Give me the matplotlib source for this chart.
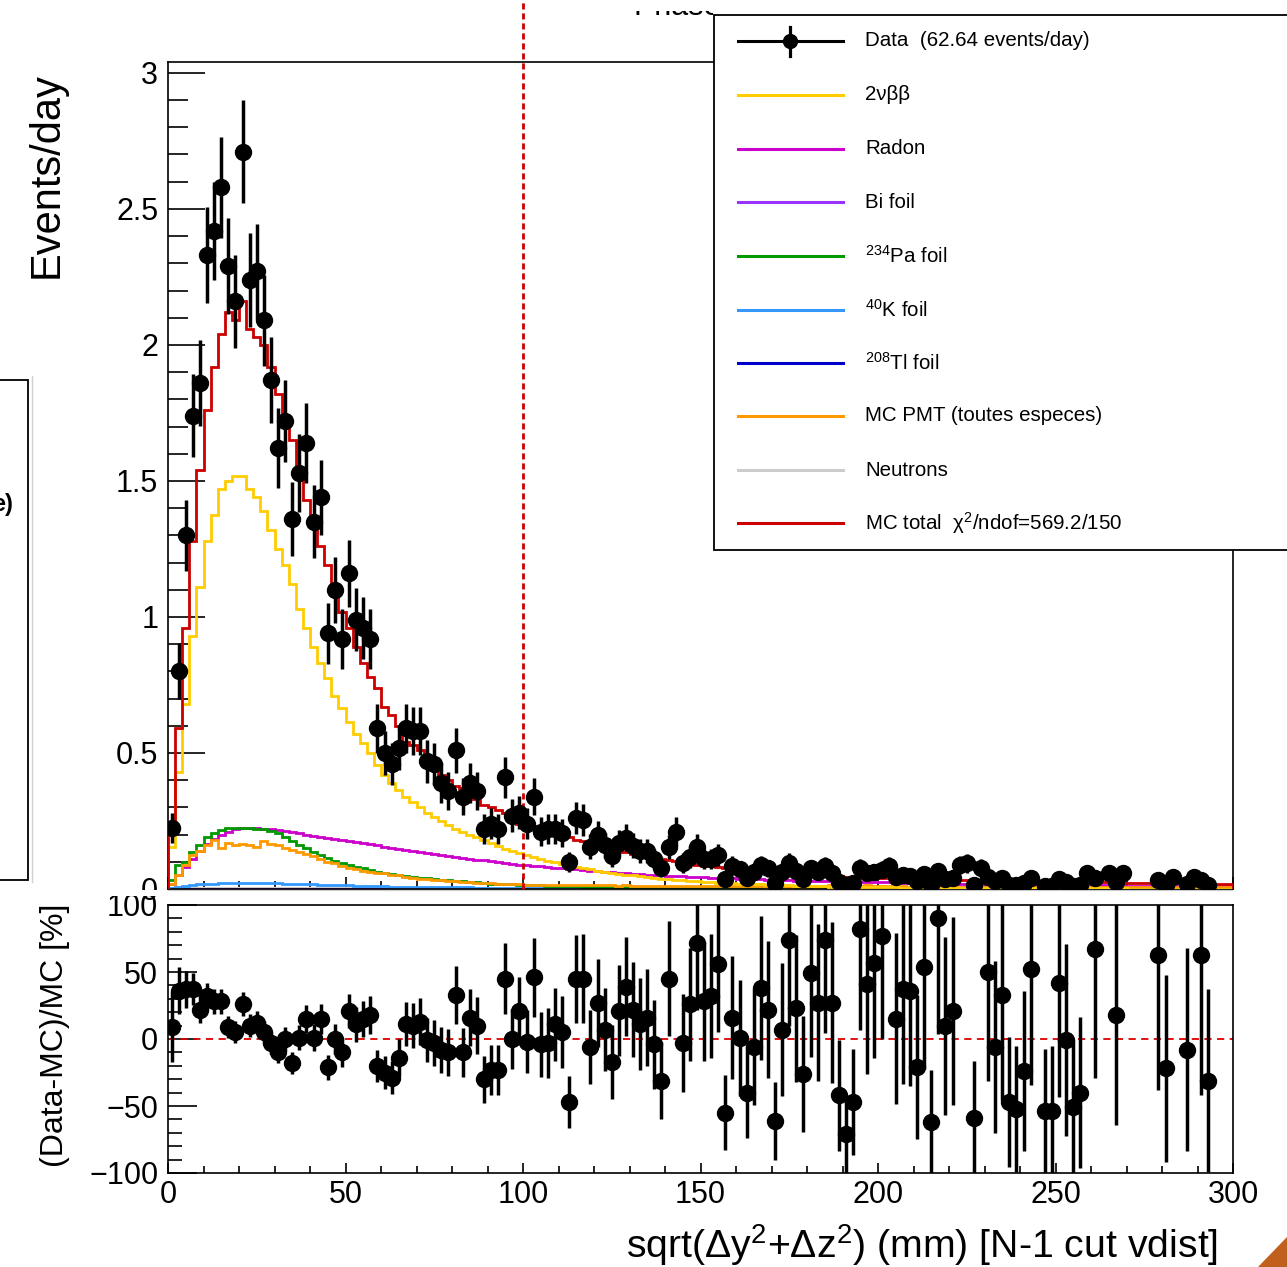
import numpy as np
import matplotlib
matplotlib.use("Agg")
import matplotlib.pyplot as plt
from matplotlib.lines import Line2D
from matplotlib.patches import Rectangle, Polygon
from matplotlib.ticker import MultipleLocator

plt.rcParams['font.family'] = ['Liberation Sans', 'DejaVu Sans']
plt.rcParams['mathtext.fontset'] = 'custom'
plt.rcParams['mathtext.rm'] = 'Liberation Sans'
plt.rcParams['mathtext.it'] = 'Liberation Sans:italic'
plt.rcParams['mathtext.bf'] = 'Liberation Sans:bold'

nan = float('nan')

# ---- data (150 bins of 2 mm, 0-300 mm) ----
bin_edges = np.arange(0, 302, 2)
livetime_days = 75.0

data_per_day = [
    0.225, 0.80, 1.30, 1.74, 1.86, 2.33, 2.42, 2.58, 2.29, 2.16,
    2.71, 2.24, 2.27, 2.09, 1.87, 1.62, 1.72, 1.36, 1.53, 1.64,
    1.35, 1.44, 0.94, 1.10, 0.92, 1.16, 0.99, 0.96, 0.92, 0.59,
    0.50, 0.46, 0.52, 0.59, 0.58, 0.58, 0.47, 0.46, 0.39, 0.36,
    0.51, 0.34, 0.39, 0.36, 0.22, 0.24, 0.22, 0.41, 0.27, 0.28,
    0.24, 0.34, 0.21, 0.22, 0.22, 0.205, 0.101, 0.261, 0.254, 0.155,
    0.197, 0.161, 0.120, 0.169, 0.188, 0.159, 0.139, 0.139, 0.110, 0.076,
    0.154, 0.21, 0.095, 0.118, 0.155, 0.110, 0.110, 0.125, 0.035, 0.086,
    0.073, 0.041, 0.063, 0.088, 0.076, 0.023, 0.062, 0.097, 0.066, 0.038,
    0.076, 0.062, 0.084, 0.060, 0.027, 0.013, 0.023, 0.078, 0.059, 0.064,
    0.071, 0.085, 0.044, 0.051, 0.049, 0.028, 0.054, 0.013, 0.065, 0.036,
    0.040, 0.088, 0.094, 0.013, 0.077, 0.045, 0.028, 0.039, 0.015, 0.013,
    0.021, 0.041, nan, 0.012, 0.012, 0.037, 0.026, 0.012, 0.015, 0.058,
    0.040, nan, 0.060, 0.027, 0.058, nan, nan, nan, nan, 0.034,
    0.016, 0.045, nan, 0.019, 0.045, 0.033, 0.014, nan, nan, nan,
]

ratio_pct = [
    9, 36, 37, 37, 22, 32, 28, 28, 9, 5,
    26, 10, 12, 5, -3, -10, 0, -18, 1, 15,
    1, 15, -21, 0, -10, 21, 11, 15, 18, -20,
    -25, -29, -14, 11, 10, 13, -1, -3, -8, -10,
    33, -10, 16, 10, -30, -23, -23, 45, 0, 21,
    -2, 46, -4, -3, 11, 5, -47, 45, 45, -6,
    27, 7, -17, 21, 39, 22, 11, 16, -4, -31,
    45, nan, -3, 26, 72, 28, 32, 56, -55, 16,
    1, -40, -6, 38, 22, -61, 7, 74, 23, -26,
    49, 27, 74, 27, -42, -71, -47, 82, 41, 57,
    77, nan, 15, 37, 36, -21, 54, -62, 90, 10,
    21, nan, nan, -59, nan, 50, -6, 33, -47, -52,
    -24, 52, nan, -54, -54, 42, -1, -51, -40, nan,
    67, nan, nan, 18, nan, nan, nan, nan, nan, 63,
    -22, nan, nan, -8, nan, 63, -31, nan, nan, nan,
]

mc_total = [
    0.21, 0.59, 0.96, 1.28, 1.54, 1.76, 1.92, 2.04, 2.12, 2.09,
    2.16, 2.06, 2.03, 2.00, 1.92, 1.82, 1.72, 1.65, 1.52, 1.43,
    1.34, 1.26, 1.19, 1.10, 1.02, 0.96, 0.89, 0.83, 0.78, 0.74,
    0.67, 0.64, 0.60, 0.54, 0.53, 0.51, 0.48, 0.46, 0.42, 0.40,
    0.38, 0.37, 0.34, 0.33, 0.31, 0.30, 0.29, 0.28, 0.27, 0.24,
    0.24, 0.23, 0.22, 0.21, 0.20, 0.195, 0.19, 0.18, 0.175, 0.165,
    0.155, 0.15, 0.145, 0.14, 0.135, 0.13, 0.125, 0.12, 0.115, 0.11,
    0.106, 0.102, 0.098, 0.094, 0.09, 0.086, 0.083, 0.08, 0.077, 0.074,
    0.072, 0.069, 0.067, 0.064, 0.062, 0.06, 0.058, 0.056, 0.054, 0.052,
    0.051, 0.049, 0.048, 0.047, 0.046, 0.045, 0.044, 0.043, 0.042, 0.041,
    0.040, 0.039, 0.038, 0.037, 0.036, 0.036, 0.035, 0.034, 0.034, 0.033,
    0.033, 0.032, 0.032, 0.031, 0.031, 0.030, 0.030, 0.029, 0.029, 0.028,
    0.028, 0.027, 0.027, 0.027, 0.026, 0.026, 0.026, 0.025, 0.025, 0.025,
    0.024, 0.024, 0.024, 0.023, 0.023, 0.023, 0.022, 0.022, 0.022, 0.021,
    0.021, 0.021, 0.021, 0.021, 0.020, 0.020, 0.020, 0.020, 0.020, 0.020,
]

two_nu_bb = [
    0.155, 0.43, 0.68, 0.93, 1.11, 1.28, 1.375, 1.47, 1.50, 1.52,
    1.52, 1.47, 1.44, 1.39, 1.32, 1.25, 1.19, 1.12, 1.03, 0.96,
    0.89, 0.83, 0.775, 0.71, 0.665, 0.615, 0.57, 0.535, 0.50, 0.455,
    0.42, 0.39, 0.365, 0.34, 0.32, 0.30, 0.28, 0.265, 0.25, 0.235,
    0.22, 0.21, 0.20, 0.19, 0.18, 0.17, 0.158, 0.148, 0.14, 0.132,
    0.125, 0.118, 0.111, 0.104, 0.098, 0.092, 0.087, 0.082, 0.077, 0.072,
    0.068, 0.064, 0.060, 0.056, 0.053, 0.050, 0.047, 0.044, 0.041, 0.038,
    0.036, 0.034, 0.032, 0.030, 0.028, 0.026, 0.025, 0.023, 0.022, 0.021,
    0.020, 0.019, 0.018, 0.017, 0.016, 0.015, 0.014, 0.013, 0.012, 0.012,
    0.011, 0.010, 0.010, 0.009, 0.009, 0.008, 0.008, 0.007, 0.007, 0.007,
    0.006, 0.006, 0.006, 0.005, 0.005, 0.005, 0.005, 0.004, 0.004, 0.004,
    0.004, 0.004, 0.003, 0.003, 0.003, 0.003, 0.003, 0.003, 0.003, 0.002,
    0.002, 0.002, 0.002, 0.002, 0.002, 0.002, 0.002, 0.002, 0.002, 0.002,
    0.002, 0.002, 0.002, 0.002, 0.002, 0.001, 0.001, 0.001, 0.001, 0.001,
    0.001, 0.001, 0.001, 0.001, 0.001, 0.001, 0.001, 0.001, 0.001, 0.001,
]

radon = [
    0.02, 0.05, 0.08, 0.11, 0.14, 0.165, 0.185, 0.20, 0.21, 0.22,
    0.225, 0.226, 0.225, 0.222, 0.22, 0.217, 0.213, 0.21, 0.205, 0.20,
    0.196, 0.192, 0.188, 0.184, 0.18, 0.176, 0.172, 0.168, 0.164, 0.16,
    0.156, 0.152, 0.148, 0.144, 0.14, 0.136, 0.132, 0.128, 0.124, 0.12,
    0.117, 0.114, 0.111, 0.108, 0.105, 0.102, 0.099, 0.096, 0.093, 0.09,
    0.088, 0.085, 0.083, 0.08, 0.078, 0.076, 0.074, 0.072, 0.07, 0.068,
    0.066, 0.064, 0.062, 0.06, 0.058, 0.056, 0.055, 0.053, 0.052, 0.05,
    0.049, 0.048, 0.046, 0.045, 0.044, 0.043, 0.042, 0.041, 0.040, 0.039,
    0.038, 0.037, 0.036, 0.035, 0.034, 0.034, 0.033, 0.032, 0.031, 0.031,
    0.030, 0.029, 0.029, 0.028, 0.027, 0.027, 0.026, 0.026, 0.025, 0.025,
    0.024, 0.024, 0.023, 0.023, 0.022, 0.022, 0.021, 0.021, 0.020, 0.020,
    0.019, 0.019, 0.018, 0.018, 0.018, 0.017, 0.017, 0.017, 0.016, 0.016,
    0.016, 0.015, 0.015, 0.015, 0.015, 0.014, 0.014, 0.014, 0.014, 0.013,
    0.013, 0.013, 0.013, 0.013, 0.012, 0.012, 0.012, 0.012, 0.012, 0.012,
    0.012, 0.011, 0.011, 0.011, 0.011, 0.011, 0.011, 0.011, 0.011, 0.011,
]

pa234_foil = [
    0.033, 0.088, 0.10, 0.137, 0.16, 0.19, 0.205, 0.217, 0.224, 0.225,
    0.225, 0.224, 0.222, 0.22, 0.215, 0.205, 0.19, 0.177, 0.16, 0.15,
    0.137, 0.125, 0.113, 0.104, 0.095, 0.088, 0.082, 0.077, 0.07, 0.064,
    0.06, 0.055, 0.051, 0.048, 0.045, 0.042, 0.039, 0.036, 0.034, 0.032,
    0.03, 0.028, 0.026, 0.024, 0.022, 0.02, 0.019, 0.018, 0.017, 0.016,
    0.015, 0.014, 0.013, 0.012, 0.012, 0.011, 0.010, 0.010, 0.009, 0.009,
    0.008, 0.008, 0.007, 0.007, 0.007, 0.006, 0.006, 0.006, 0.005, 0.005,
    0.005, 0.005, 0.004, 0.004, 0.004, 0.004, 0.004, 0.003, 0.003, 0.003,
    0.003, 0.003, 0.003, 0.003, 0.003, 0.002, 0.002, 0.002, 0.002, 0.002,
    0.002, 0.002, 0.002, 0.002, 0.002, 0.002, 0.002, 0.002, 0.002, 0.002,
    0.002, 0.002, 0.002, 0.002, 0.002, 0.002, 0.002, 0.002, 0.002, 0.002,
    0.001, 0.001, 0.001, 0.001, 0.001, 0.001, 0.001, 0.001, 0.001, 0.001,
    0.001, 0.001, 0.001, 0.001, 0.001, 0.001, 0.001, 0.001, 0.001, 0.001,
    0.001, 0.001, 0.001, 0.001, 0.001, 0.001, 0.001, 0.001, 0.001, 0.001,
    0.001, 0.001, 0.001, 0.001, 0.001, 0.001, 0.001, 0.001, 0.001, 0.001,
]

k40_foil = [
    0.005, 0.008, 0.012, 0.015, 0.017, 0.019, 0.020, 0.021, 0.022, 0.022,
    0.022, 0.022, 0.022, 0.022, 0.022, 0.021, 0.020, 0.020, 0.019, 0.018,
    0.017, 0.016, 0.015, 0.014, 0.013, 0.013, 0.012, 0.011, 0.011, 0.010,
    0.010, 0.009, 0.009, 0.008, 0.008, 0.008, 0.007, 0.007, 0.007, 0.006,
    0.006, 0.006, 0.006, 0.005, 0.005, 0.005, 0.005, 0.004, 0.004, 0.004,
    0.004, 0.004, 0.003, 0.003, 0.003, 0.003, 0.003, 0.003, 0.002, 0.002,
    0.002, 0.002, 0.002, 0.002, 0.002, 0.002, 0.002, 0.002, 0.002, 0.002,
    0.002, 0.002, 0.002, 0.002, 0.002, 0.002, 0.002, 0.002, 0.002, 0.002,
    0.001, 0.001, 0.001, 0.001, 0.001, 0.001, 0.001, 0.001, 0.001, 0.001,
    0.001, 0.001, 0.001, 0.001, 0.001, 0.001, 0.001, 0.001, 0.001, 0.001,
    0.001, 0.001, 0.001, 0.001, 0.001, 0.001, 0.001, 0.001, 0.001, 0.001,
    0.001, 0.001, 0.001, 0.001, 0.001, 0.001, 0.001, 0.001, 0.001, 0.001,
    0.001, 0.001, 0.001, 0.001, 0.001, 0.001, 0.001, 0.001, 0.001, 0.001,
    0.001, 0.001, 0.001, 0.001, 0.001, 0.001, 0.001, 0.001, 0.001, 0.001,
    0.001, 0.001, 0.001, 0.001, 0.001, 0.001, 0.001, 0.001, 0.001, 0.001,
]

mc_pmt = [
    0.02, 0.05, 0.09, 0.125, 0.14, 0.16, 0.18, 0.15, 0.17, 0.16,
    0.165, 0.16, 0.155, 0.175, 0.165, 0.16, 0.15, 0.143, 0.135, 0.127,
    0.12, 0.11, 0.10, 0.094, 0.085, 0.077, 0.072, 0.068, 0.064, 0.06,
    0.057, 0.053, 0.05, 0.045, 0.041, 0.038, 0.035, 0.033, 0.032, 0.03,
    0.028, 0.027, 0.025, 0.023, 0.022, 0.021, 0.020, 0.019, 0.018, 0.017,
    0.016, 0.016, 0.015, 0.016, 0.015, 0.014, 0.015, 0.014, 0.014, 0.013,
    0.014, 0.013, 0.013, 0.012, 0.013, 0.012, 0.012, 0.011, 0.012, 0.011,
    0.011, 0.012, 0.011, 0.010, 0.011, 0.010, 0.011, 0.010, 0.010, 0.011,
    0.010, 0.010, 0.011, 0.010, 0.009, 0.010, 0.010, 0.009, 0.010, 0.009,
    0.010, 0.009, 0.012, 0.013, 0.012, 0.013, 0.012, 0.012, 0.013, 0.012,
    0.011, 0.012, 0.011, 0.010, 0.009, 0.010, 0.009, 0.009, 0.010, 0.009,
    0.009, 0.009, 0.008, 0.009, 0.009, 0.008, 0.009, 0.008, 0.008, 0.009,
    0.008, 0.008, 0.009, 0.008, 0.008, 0.008, 0.007, 0.008, 0.008, 0.007,
    0.008, 0.008, 0.007, 0.008, 0.007, 0.007, 0.008, 0.007, 0.007, 0.007,
    0.007, 0.008, 0.007, 0.007, 0.007, 0.007, 0.006, 0.007, 0.007, 0.007,
]

# components that stay at zero over the whole range
bi_foil = np.zeros(150)
tl208_foil = np.zeros(150)
neutrons = np.zeros(150)

series_labels = ["Data  (62.64 events/day)", "2νββ", "Radon", "Bi foil",
                 "$^{234}$Pa foil", "$^{40}$K foil", "$^{208}$Tl foil",
                 "MC PMT (toutes especes)", "Neutrons",
                 "MC total  χ$^{2}$/ndof=569.2/150"]
series_colors = ["black", "#ffcc00", "#cc00cc", "#9933ff", "#009900",
                 "#3399ff", "#0000cc", "#ff9900", "#cccccc", "#cc0000"]

# ---- derived ----
centers = bin_edges[:-1] + 1
data = np.array(data_per_day, dtype=float)
data_err = np.sqrt(data / livetime_days)
mc = np.array(mc_total)
ratio = np.array(ratio_pct, dtype=float)
ratio_err = 100 * data_err / mc

W, H = 1287, 1267


def fx(px):
    return px / W


def fy(py):
    return 1 - py / H


fig = plt.figure(figsize=(W / 100, H / 100), dpi=100)
ax = fig.add_axes([fx(168), fy(889), fx(1233) - fx(168), fy(62) - fy(889)])
axr = fig.add_axes([fx(168), fy(1173), fx(1233) - fx(168), fy(905) - fy(1173)])

# ---- top panel ----
ax.stairs(neutrons, bin_edges, color=series_colors[8], lw=3, clip_on=False, zorder=2)
ax.stairs(tl208_foil, bin_edges, color=series_colors[6], lw=2, zorder=2.1)
ax.stairs(bi_foil, bin_edges, color=series_colors[3], lw=2, zorder=2.1)
ax.stairs(k40_foil, bin_edges, color=series_colors[5], lw=2, zorder=2.2)
ax.stairs(radon, bin_edges, color=series_colors[2], lw=2, zorder=2.3)
ax.stairs(pa234_foil, bin_edges, color=series_colors[4], lw=2, zorder=2.4)
ax.stairs(mc_pmt, bin_edges, color=series_colors[7], lw=2, zorder=2.5)
ax.stairs(two_nu_bb, bin_edges, color=series_colors[1], lw=2, zorder=2.6)
ax.stairs(mc, bin_edges, color=series_colors[9], lw=2, zorder=2.7)
ax.plot([100, 100], [0, 3.27], color="#cc0000", lw=2, ls=(0, (2.2, 1.4)),
        clip_on=False, zorder=3)
ax.errorbar(centers, data, yerr=data_err, fmt="o", color="black", ms=11.5,
            elinewidth=2.5, capsize=0, zorder=10)

ax.set_xlim(0, 300)
ax.set_ylim(0, 3.04)
ax.set_xticks(range(0, 301, 50))
ax.xaxis.set_minor_locator(MultipleLocator(10))
ax.set_yticks([0, 0.5, 1, 1.5, 2, 2.5, 3], ["0", "0.5", "1", "1.5", "2", "2.5", "3"])
ax.yaxis.set_minor_locator(MultipleLocator(0.1))
ax.tick_params(axis="x", which="major", direction="in", length=8.6, width=1.2,
               labelbottom=False)
ax.tick_params(axis="x", which="minor", direction="in", length=5.8, width=1.2)
ax.tick_params(axis="y", which="major", direction="in", length=26.6, width=1.2,
               labelsize=22, pad=7)
ax.tick_params(axis="y", which="minor", direction="in", length=14.4, width=1.2)
for s in ax.spines.values():
    s.set_linewidth(1.2)

# ---- ratio panel ----
axr.axhline(0, color="#dd0000", lw=1.3, ls=(0, (4, 3)), zorder=2)
axr.errorbar(centers, ratio, yerr=ratio_err, fmt="o", color="black", ms=11.5,
             elinewidth=2.5, capsize=0, zorder=10)
axr.set_xlim(0, 300)
axr.set_ylim(-100, 100)
axr.set_xticks(range(0, 301, 50), [str(v) for v in range(0, 301, 50)])
axr.xaxis.set_minor_locator(MultipleLocator(10))
axr.set_yticks([-100, -50, 0, 50, 100], ["\u2212100", "\u221250", "0", "50", "100"])
axr.yaxis.set_minor_locator(MultipleLocator(10))
axr.tick_params(axis="x", which="major", direction="in", length=7.2, width=1.2,
                labelsize=22, pad=5)
axr.tick_params(axis="x", which="minor", direction="in", length=5, width=1.2)
axr.tick_params(axis="y", which="major", direction="in", length=20.6, width=1.2,
                labelsize=22, pad=7)
axr.tick_params(axis="y", which="minor", direction="in", length=10, width=1.2)
for s in axr.spines.values():
    s.set_linewidth(1.2)

# the top pad ends just under its frame: its "0" label is cut there
fig.add_artist(Rectangle((fx(100), fy(896)), fx(166) - fx(100), fy(890) - fy(896),
                         transform=fig.transFigure, facecolor="white",
                         edgecolor="none", zorder=0.5))

# ---- axis titles ----
fig.text(fx(47), fy(175), "Events/day", rotation=90, ha="center", va="center", fontsize=30)
fig.text(fx(55), fy(1035), "(Data-MC)/MC [%]", rotation=90, ha="center", va="center",
         fontsize=23)
fig.text(fx(1218), fy(1245), "sqrt(Δy$^{2}$+Δz$^{2}$) (mm) [N-1 cut vdist]",
         ha="right", va="center", fontsize=28.3)

# ---- legend box (runs off the right edge) ----
fig.add_artist(Rectangle((fx(714), fy(550)), fx(1330) - fx(714), fy(15) - fy(550),
                         transform=fig.transFigure, facecolor="white",
                         edgecolor="black", lw=1.3, zorder=20))
rows = [41, 95, 149, 202, 256, 310, 363, 416, 470, 523]
for row, lab, col in zip(rows, series_labels, series_colors):
    fig.add_artist(Line2D([fx(738), fx(843)], [fy(row), fy(row)],
                          transform=fig.transFigure, color=col, lw=2.2, zorder=21))
    fig.text(fx(865), fy(row), lab, ha="left", va="center", fontsize=14.8, zorder=22)
fig.add_artist(Line2D([fx(790)], [fy(rows[0])], transform=fig.transFigure, marker="o",
                      ms=10, color="black", zorder=22))
fig.add_artist(Line2D([fx(790), fx(790)], [fy(27), fy(56)], transform=fig.transFigure,
                      color="black", lw=2.3, zorder=22))

# ---- slide leftovers around the plot ----
fig.add_artist(Rectangle((fx(-10), fy(880)), fx(28) - fx(-10), fy(380) - fy(880),
                         transform=fig.transFigure, fill=False, edgecolor="black",
                         lw=1.3))
fig.add_artist(Line2D([fx(32), fx(32)], [fy(376), fy(882)], transform=fig.transFigure,
                      color="#d0d0d0", lw=1))
fig.text(fx(13), fy(505), "e)", ha="right", va="center", fontsize=17, fontweight="bold")

# title of the slide: only the bottom sliver of it shows in the crop
tax = fig.add_axes([fx(580), fy(16), fx(713) - fx(580), fy(11) - fy(16)])
tax.axis("off")
tax.text(fx(690), fy(15), "Phase 1", transform=fig.transFigure, ha="center",
         va="baseline", fontsize=22, clip_on=True)

fig.add_artist(Polygon([(fx(1258), fy(1267)), (fx(1287), fy(1267)), (fx(1287), fy(1237))],
                       closed=True, transform=fig.transFigure, facecolor="#c0601c",
                       edgecolor="none"))

fig.savefig("out.png", dpi=100)
